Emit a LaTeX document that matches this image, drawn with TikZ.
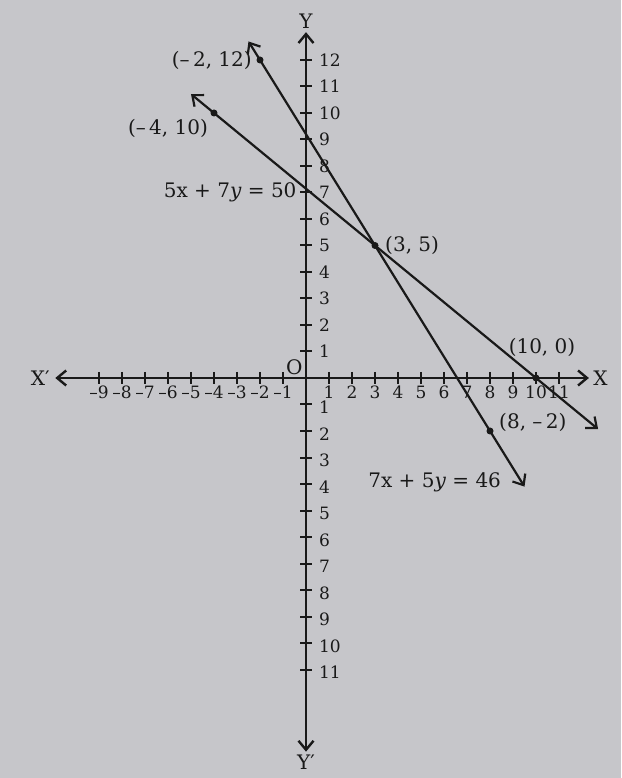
\documentclass[tikz,border=0pt]{standalone}
\usepackage{fontspec}
\setmainfont{DejaVu Serif}
\usepackage{tikz}
\usetikzlibrary{arrows.meta,positioning}
\definecolor{paper}{RGB}{198,198,202}
\definecolor{ink}{RGB}{25,25,25}
\begin{document}
\begin{tikzpicture}[x=23pt,y=26.5pt,font=\fontsize{20}{24}\selectfont,
    color=ink,
    >={Straight Barb[length=9pt,width=15pt]},
    axis/.style={<->,line width=2.4pt},
    graph/.style={<->,line width=2.2pt},
    tick/.style={line width=2pt},
    xlab/.style={below=0pt,inner sep=1pt,font=\fontsize{17}{20}\selectfont},
    ylab/.style={right=5pt,inner sep=1pt,font=\fontsize{17}{20}\selectfont},
    ynlab/.style={ylab,yshift=-3pt},
    dot/.style={circle,fill=ink,inner sep=0pt,minimum size=7pt}]
      \useasboundingbox[fill=paper] (-306pt,-400pt) rectangle (315pt,378pt);

      % axes
      \coordinate (o) at (0,0);
      \coordinate (xl) at (-10.9,0);
      \coordinate (xr) at (12.3,0);
      \coordinate (yt) at (0,13.05);
      \coordinate (yb) at (0,-14.1);
      \draw[axis] (xl) -- (xr);
      \draw[axis] (yb) -- (yt);
      \node[left=2pt of xl] (xname1) {X′};
      \node[right=1pt of xr] (xname2) {X};
      \node[above=0pt of yt] (yname1) {Y};
      \node[below=0pt of yb] (yname2) {Y′};
      \node[above left=0pt and 0pt of o] (oname) {O};

      % ticks
      \foreach \i in {1,...,11}
        \draw[tick] (\i,0) ++(0,6pt) -- ++(0,-12pt) node[xlab] (xp\i) {\i};
      \foreach \i in {1,...,9}
        \draw[tick] (-\i,0) ++(0,6pt) -- ++(0,-12pt) node[xlab] (xn\i) {–\i};
      \foreach \i in {1,...,12}
        \draw[tick] (0,\i) ++(-6pt,0) -- ++(12pt,0) node[ylab] (yp\i) {\i};
      \foreach \i in {1,...,11}
        \draw[tick] (0,-\i) ++(-6pt,0) -- ++(12pt,0) node[ynlab] (yn\i) {\i};

      % the two lines
      \coordinate (a1) at (-2.5,12.7);
      \coordinate (a2) at (9.5,-4.1);
      \coordinate (b1) at (-5,10.714);
      \coordinate (b2) at (12.7,-1.929);
      \draw[graph] (a1) -- (a2);
      \draw[graph] (b1) -- (b2);

      % points
      \node[dot] (p1) at (-2,12) {};
      \node[dot] (p2) at (-4,10) {};
      \node[dot] (p3) at (3,5) {};
      \node[dot] (p4) at (8,-2) {};
      \node[dot] (p5) at (10,0) {};
      \coordinate (c7) at (0,7);

      \node[left=1pt of p1] (l1) {(–\,2, 12)};
      \node[below left=0pt and 0pt of p2] (l2) {(–\,4, 10)};
      \node[right=3pt of p3] (l3) {(3, 5)};
      \node[right=2pt of p4,yshift=9pt] (l4) {(8, –\,2)};
      \node[above=14pt of p5,xshift=6pt] (l5) {(10, 0)};
      \node[left=6pt of c7] (eq1) {5x + 7\textit{y} = 50};
      \node[left=20pt of a2,yshift=4pt] (eq2) {7x + 5\textit{y} = 46};
    \end{tikzpicture}
\end{document}
